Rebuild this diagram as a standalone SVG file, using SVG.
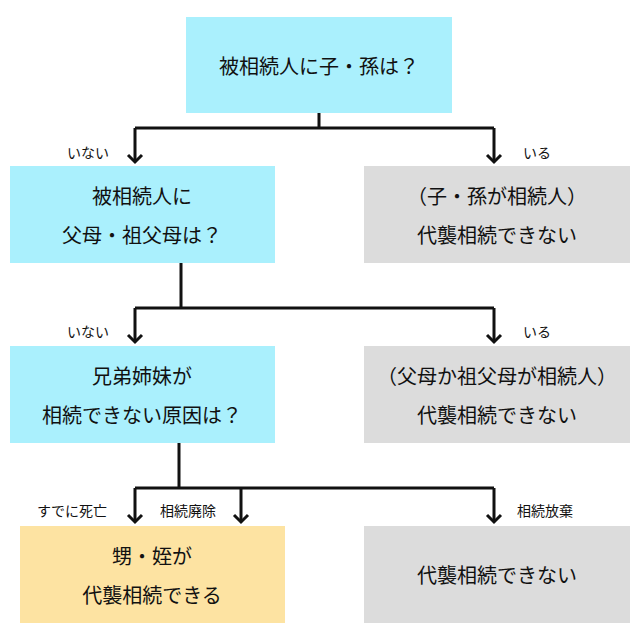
<svg xmlns="http://www.w3.org/2000/svg" width="640" height="640" viewBox="0 0 640 640">
<style>
.c{fill:#aaf0fd}.g{fill:#dcdcdc}.o{fill:#fde3a2}
text{font-family:"Noto Sans CJK JP","Noto Sans",sans-serif;fill:#111;text-anchor:middle}
.t{font-size:20px}.l{font-size:14px}
.ln{stroke:#111;stroke-width:3;fill:none}
</style>
<rect width="640" height="640" fill="#fff"/>
<g id="connectors" class="ln">
<path d="M319 113V128M135 128H494M135 128V162M494 128V162"/>
<path d="M181 263V308M135 308H494M135 308V342M494 308V342"/>
<path d="M179 443V488M135 488H494M135 488V522M241 488V522M494 488V522"/>
<path d="M128 155L135 162L142 155M487 155L494 162L501 155"/>
<path d="M128 335L135 342L142 335M487 335L494 342L501 335"/>
<path d="M128 515L135 522L142 515M234 515L241 522L248 515M487 515L494 522L501 515"/>
</g>
<g id="labels" class="l">
<text x="88" y="158">いない</text><text x="537" y="158">いる</text>
<text x="88" y="337">いない</text><text x="537" y="337">いる</text>
<text x="72" y="516">すでに死亡</text><text x="188" y="516">相続廃除</text><text x="545" y="516">相続放棄</text>
</g>
<g id="n1"><rect class="c" x="186" y="17" width="266" height="96"/><text class="t" x="319" y="74">被相続人に子・孫は？</text></g>
<g id="n2"><rect class="c" x="10" y="166" width="265" height="97"/><text class="t" x="142" y="204">被相続人に</text><text class="t" x="142" y="243">父母・祖父母は？</text></g>
<g id="n3"><rect class="g" x="364" y="166" width="266" height="97"/><text class="t" x="497" y="204">（子・孫が相続人）</text><text class="t" x="497" y="243">代襲相続できない</text></g>
<g id="n4"><rect class="c" x="10" y="346" width="265" height="97"/><text class="t" x="142" y="384">兄弟姉妹が</text><text class="t" x="142" y="423">相続できない原因は？</text></g>
<g id="n5"><rect class="g" x="364" y="346" width="266" height="97"/><text class="t" x="497" y="384">（父母か祖父母が相続人）</text><text class="t" x="497" y="423">代襲相続できない</text></g>
<g id="n6"><rect class="o" x="20" y="526" width="265" height="97"/><text class="t" x="152" y="564">甥・姪が</text><text class="t" x="152" y="603">代襲相続できる</text></g>
<g id="n7"><rect class="g" x="364" y="526" width="266" height="97"/><text class="t" x="497" y="583">代襲相続できない</text></g>
</svg>
